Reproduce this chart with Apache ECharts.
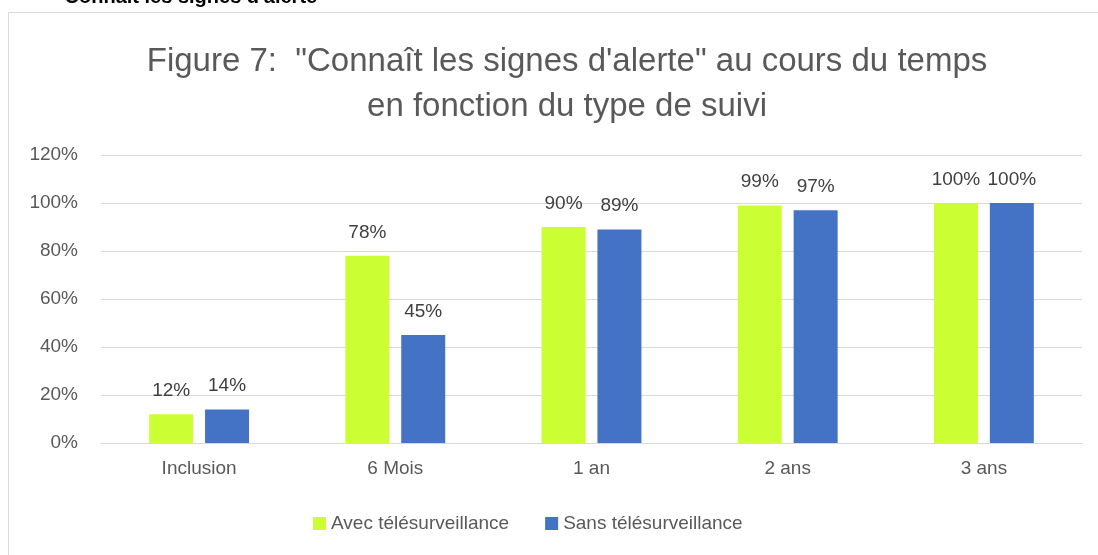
<!DOCTYPE html>
<html>
<head>
<meta charset="utf-8">
<script src="https://cdn.jsdelivr.net/npm/echarts@6/dist/echarts.min.js"></script>
<style>
html, body { margin: 0; padding: 0; background: #fff; }
#chart { width: 1098px; height: 555px; }
</style>
</head>
<body>
<div id="chart"></div>
<script>
var categories = ['Inclusion', '6 Mois', '1 an', '2 ans', '3 ans'];
var avecTele = [12, 78, 90, 99, 100];
var sansTele = [14, 45, 89, 97, 100];
var yTicks = [0, 20, 40, 60, 80, 100, 120];

var chart = echarts.init(document.getElementById('chart'));
var font = 'Liberation Sans';
var option = {
	backgroundColor: '#fff',
	animation: false,
	graphic: [
		{
			type: 'rect',
			shape: { x: 8.5, y: 12.5, width: 1100, height: 560 },
			style: { fill: 'none', stroke: '#d9d9d9', lineWidth: 1 }
		},
		{
			type: 'text',
			left: 52,
			top: -13,
			style: { text: '• Connaît les signes d\'alerte', font: 'bold 20px ' + font, fill: '#000' }
		}
	],
	title: {
		text: 'Figure 7:  "Connaît les signes d\'alerte" au cours du temps\nen fonction du type de suivi',
		left: 562,
		textAlign: 'center',
		top: 34,
		textStyle: { fontFamily: font, fontSize: 33, fontWeight: 'normal', color: '#595959', lineHeight: 45 }
	},
	legend: {
		bottom: 17,
		left: 308,
		itemWidth: 13,
		itemHeight: 13,
		itemGap: 36,
		icon: 'rect',
		textStyle: { fontFamily: font, fontSize: 19, color: '#595959' },
		data: ['Avec télésurveillance', 'Sans télésurveillance']
	},
	grid: { left: 101, right: 16, top: 155, bottom: 112, containLabel: false },
	xAxis: {
		type: 'category',
		data: categories,
		axisLine: { lineStyle: { color: '#d9d9d9' } },
		axisTick: { show: false },
		axisLabel: { fontFamily: font, fontSize: 19, color: '#595959', margin: 16 }
	},
	yAxis: {
		type: 'value',
		min: yTicks[0],
		max: yTicks[yTicks.length - 1],
		interval: 20,
		axisLine: { show: false },
		axisTick: { show: false },
		splitLine: { lineStyle: { color: '#d9d9d9' } },
		axisLabel: { fontFamily: font, fontSize: 19, color: '#595959', margin: 23, formatter: '{value}%' }
	},
	series: [
		{
			name: 'Avec télésurveillance',
			type: 'bar',
			data: avecTele,
			barWidth: 44,
			barGap: '27%',
			itemStyle: { color: '#CCFF33' },
			label: { show: true, position: 'top', distance: 14, formatter: '{c}%', fontFamily: font, fontSize: 19, color: '#404040' }
		},
		{
			name: 'Sans télésurveillance',
			type: 'bar',
			data: sansTele,
			barWidth: 44,
			itemStyle: { color: '#4472C4' },
			label: { show: true, position: 'top', distance: 14, formatter: '{c}%', fontFamily: font, fontSize: 19, color: '#404040' }
		}
	]
};
chart.setOption(option);
</script>
</body>
</html>
